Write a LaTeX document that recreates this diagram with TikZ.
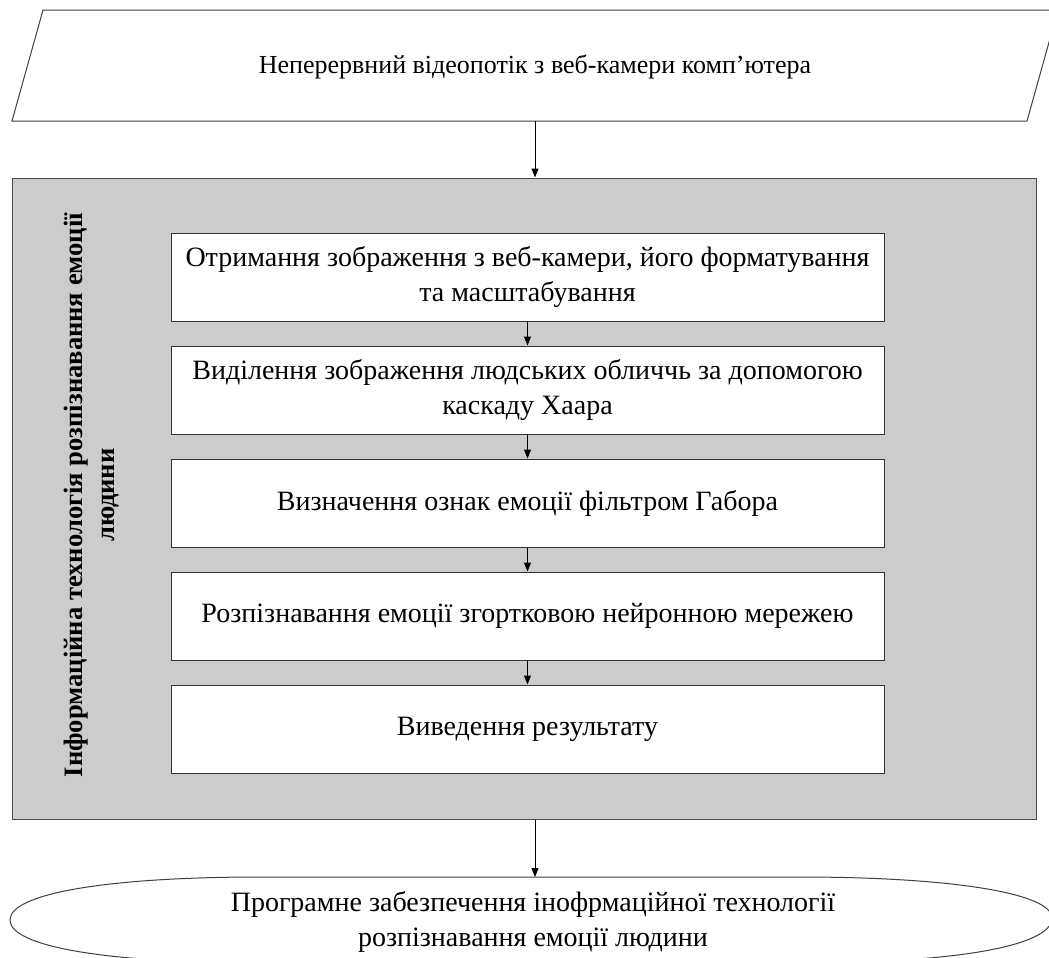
\documentclass[tikz,border=0pt]{standalone}
\usepackage{fontspec}
\setmainfont{Liberation Serif}
\usetikzlibrary{positioning, arrows.meta}

\tikzset{
  stepbox/.style={draw=black!80, fill=white, minimum width=356.5pt,
    minimum height=44pt, inner sep=0pt, align=center},
  flow/.style={-{Triangle[length=4.5pt, width=3.5pt]}, black}
}

\begin{document}
\begin{tikzpicture}[x=0.5pt, y=-0.5pt, line width=0.5pt,
    font=\fontsize{14}{17.5}\selectfont]

    % Page frame
    \useasboundingbox (0,0) rectangle (1049,958);

    % Input parallelogram
    \draw[black!75, fill=white]
      (43,10) -- (1058,10) -- (1027,121) -- (12,121) -- cycle;
    \node[font=\fontsize{13}{16}\selectfont] (src) at (535,67)
      {Неперервний відеопотік з веб-камери комп’ютера};
    \coordinate (srcbot) at (535,121);

    % Grey block of the technology
    \node[draw=black!70, fill=black!20, minimum width=512pt,
      minimum height=320.5pt, inner sep=0pt] (tech) at (524,498.5) {};
    \node[rotate=90, align=center,
      font=\fontsize{13.3}{16}\selectfont\bfseries] (techlabel) at (92,495)
      {Інформаційна технологія розпізнавання емоції\\людини};

    % Steps
    \node[stepbox] (s1) at (527.5,277)
      {Отримання зображення з веб-камери, його форматування\\та масштабування};
    \node[stepbox, below=12pt of s1] (s2)
      {Виділення зображення людських обличчь за допомогою\\каскаду Хаара};
    \node[stepbox, below=12pt of s2] (s3)
      {Визначення ознак емоції фільтром Габора};
    \node[stepbox, below=12pt of s3] (s4)
      {Розпізнавання емоції згортковою нейронною мережею};
    \node[stepbox, below=12pt of s4] (s5)
      {Виведення результату};

    % Arrows between steps
    \foreach \a/\b in {s1/s2, s2/s3, s3/s4, s4/s5}
      \draw[flow] (\a) -- (\b);

    % Output oval
    \draw[black!75, fill=white]
      (10,920) .. controls (10,893) and (110,877) .. (260,877)
      -- (800,877) .. controls (950,877) and (1052,893) .. (1052,918)
      .. controls (1052,947) and (950,963) .. (800,963)
      -- (260,963) .. controls (110,963) and (10,947) .. cycle;
    \node[align=center] (out) at (533,922)
      {Програмне забезпечення інофрмаційної технології\\розпізнавання емоції людини};
    \coordinate (outtop) at (535,877);

    % Input and output arrows
    \draw[flow] (srcbot) -- (srcbot |- tech.north);
    \draw[flow] (srcbot |- tech.south) -- (outtop);
\end{tikzpicture}
\end{document}
